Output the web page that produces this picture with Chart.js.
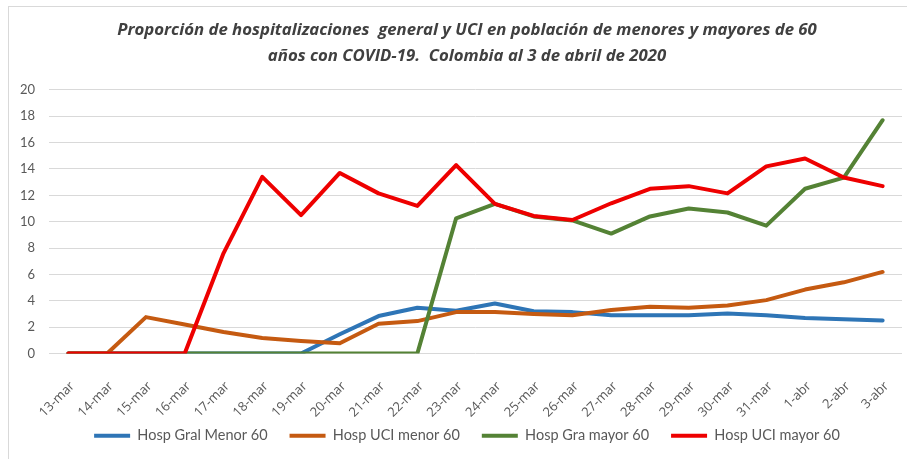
<!DOCTYPE html>
<html>
<head>
<meta charset="utf-8">
<script src="https://cdn.jsdelivr.net/npm/chart.js@4.4.1/dist/chart.umd.min.js"></script>
<style>
    body { margin: 0; background: #fff; overflow: hidden; }
    .frame { position: absolute; left: 8px; top: 6px; width: 920px; height: 470px; border-left: 1px solid #d9d9d9; border-top: 1px solid #d9d9d9; }
    /* el grafico original sigue a la derecha del recorte: lienzo algo mas ancho que la ventana */
    .wrap { position: absolute; left: 0; top: 0; width: 931px; height: 459px; }
</style>
</head>
<body>
<div class="frame"></div>
<div class="wrap"><canvas id="chart"></canvas></div>
<script>
// Fechas (eje X)
const fechas = ['13-mar', '14-mar', '15-mar', '16-mar', '17-mar', '18-mar', '19-mar', '20-mar', '21-mar', '22-mar', '23-mar',
    '24-mar', '25-mar', '26-mar', '27-mar', '28-mar', '29-mar', '30-mar', '31-mar', '1-abr', '2-abr', '3-abr'];

// Series
const hospGralMenor = [0, 0, 0, 0, 0, 0, 0, 1.46, 2.84, 3.47, 3.25, 3.8, 3.2, 3.14, 2.9, 2.9, 2.9, 3.04, 2.9, 2.69, 2.59, 2.51];
const hospUciMenor = [0, 0, 2.76, 2.2, 1.63, 1.18, 0.95, 0.78, 2.26, 2.46, 3.14, 3.14, 3.0, 2.9, 3.3, 3.55, 3.47, 3.65, 4.05, 4.85, 5.4, 6.19];
const hospGraMayor = [0, 0, 0, 0, 0, 0, 0, 0, 0, 0, 10.26, 11.35, 10.4, 10.1, 9.1, 10.4, 11.0, 10.7, 9.7, 12.5, 13.35, 17.7];
const hospUciMayor = [0, 0, 0, 0, 7.6, 13.4, 10.5, 13.7, 12.15, 11.2, 14.3, 11.35, 10.44, 10.13, 11.4, 12.5, 12.7, 12.15, 14.2, 14.8, 13.35, 12.7];

const titulo = ['Proporción de hospitalizaciones  general y UCI en población de menores y mayores de 60',
    'años con COVID-19.  Colombia al 3 de abril de 2020'];

function serie(label, data, color, order) {
    return {
        label: label,
        data: data,
        borderColor: color,
        backgroundColor: color,
        borderWidth: 4,
        borderCapStyle: 'round',
        borderJoinStyle: 'round',
        pointRadius: 0,
        tension: 0,
        order: order
    };
}

const ctx = document.getElementById('chart').getContext('2d');
new Chart(ctx, {
    type: 'line',
    data: {
        labels: fechas,
        datasets: [
            serie('Hosp Gral Menor 60', hospGralMenor, '#2e75b6', 4),
            serie('Hosp UCI menor 60', hospUciMenor, '#c55a11', 3),
            serie('Hosp Gra mayor 60', hospGraMayor, '#548235', 2),
            serie('Hosp UCI mayor 60', hospUciMayor, '#ee0000', 1)
        ]
    },
    options: {
        responsive: true,
        maintainAspectRatio: false,
        animation: false,
        layout: { padding: { left: 8, right: 5, top: 17, bottom: 6 } },
        plugins: {
            title: {
                display: true,
                text: titulo,
                color: '#404040',
                font: { family: 'Open Sans', size: 16.75, weight: 'bold', style: 'italic', lineHeight: 1.55 },
                padding: { top: 0, bottom: 21 }
            },
            legend: {
                position: 'bottom',
                labels: {
                    usePointStyle: true,
                    pointStyle: 'line',
                    pointStyleWidth: 36,
                    color: '#595959',
                    font: { family: 'Lato', size: 14.5 },
                    padding: 22,
                    sort: (a, b) => a.datasetIndex - b.datasetIndex
                }
            },
            tooltip: { enabled: false }
        },
        scales: {
            x: {
                offset: true,
                grid: { display: false },
                border: { display: false },
                ticks: {
                    color: '#595959',
                    font: { family: 'Open Sans', size: 13 },
                    minRotation: 45,
                    maxRotation: 45,
                    autoSkip: false,
                    padding: 17,
                    labelOffset: 4
                },
                afterFit: function(scale) {
                    scale.height = 53;
                    // las etiquetas giradas bajan un poco mas que el eje: sin recorte
                    scale._computeLabelArea = function() { return null; };
                }
            },
            y: {
                min: 0,
                max: 20,
                ticks: {
                    stepSize: 2,
                    color: '#595959',
                    font: { family: 'Lato', size: 13 },
                    padding: 14
                },
                grid: { color: '#d9d9d9', drawTicks: false },
                border: { display: false },
                afterFit: function(scale) { scale.width = 41; }
            },
            // margen derecho vacio (fuera de la ventana)
            margen: {
                position: 'right',
                grid: { display: false },
                border: { display: false },
                ticks: { display: false },
                afterFit: function(scale) { scale.width = 24; }
            }
        }
    }
});
</script>
</body>
</html>
